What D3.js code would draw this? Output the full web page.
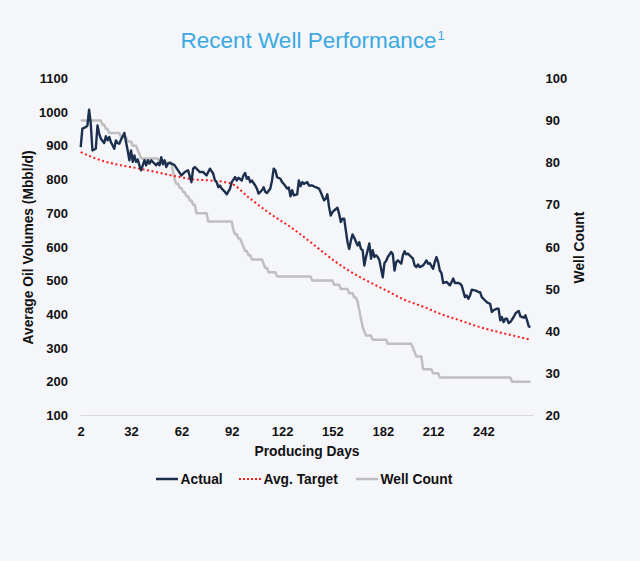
<!DOCTYPE html>
<html>
<head>
<meta charset="utf-8">
<script src="https://cdn.jsdelivr.net/npm/d3@7"></script>
<style>
  html, body { margin: 0; padding: 0; background: #f5f6fa; }
  svg { display: block; font-family: "Liberation Sans", Arial, sans-serif; }
</style>
</head>
<body>
<svg id="chart" width="640" height="561"></svg>
<script>
// ---- Data ----
const actualDays = [2,3,5,6,7,8,9,11,12,13,14,16,17,18,19,20,22,23,24,25,26,28,29,30,31,32,33,34,35,36,37,38,40,41,42,43,44,46,47,48,49,50,51,52,53,54,55,57,58,60,62,64,66,68,69,70,72,73,75,77,78,79,81,82,83,84,85,86,88,89,91,92,94,95,96,98,99,100,101,102,103,104,106,107,108,110,111,112,113,115,116,117,118,119,121,122,123,125,126,127,128,129,131,132,133,134,135,137,138,140,142,144,145,147,148,149,150,151,152,153,155,156,157,158,159,161,162,163,164,165,167,168,169,170,171,172,174,175,176,177,178,179,180,182,183,184,185,187,188,189,190,191,193,194,195,196,197,199,200,201,202,203,204,206,207,208,209,210,212,213,214,215,216,217,218,220,221,222,223,224,225,227,228,229,231,232,233,234,235,237,238,239,240,241,243,244,245,246,247,248,250,251,252,253,254,255,256,257,258,260,261,262,263,264,266,267,268,269,270];
const actualValues = [896,951,955,960,1007,966,886,891,960,936,921,908,928,916,926,911,891,916,908,906,918,938,911,886,857,886,852,871,852,859,842,827,857,842,857,847,857,847,842,849,842,866,845,857,837,847,849,845,842,827,812,822,827,792,832,837,827,822,822,812,822,832,817,797,792,777,782,773,763,756,773,792,807,797,805,797,812,819,802,807,792,797,782,773,758,768,777,763,760,773,797,832,827,807,802,792,787,773,776,750,768,753,756,797,780,792,787,792,782,782,777,773,763,738,743,756,718,693,703,708,716,698,674,684,684,614,594,619,637,627,604,614,594,590,545,570,610,565,590,570,575,570,560,510,552,558,570,585,578,530,555,560,550,575,587,578,580,570,565,545,540,548,540,545,552,560,550,552,535,555,570,555,530,522,493,496,491,486,496,506,493,493,491,486,451,456,446,456,473,471,469,466,466,451,441,436,433,431,407,412,417,417,382,392,377,387,387,374,377,392,402,407,410,394,390,397,382,364,362];

const targetDays   = [2,11,23,35,47,59,70,79,91,103,115,127,139,148,160,172,184,195,207,216,228,240,252,264,270];
const targetValues = [881,862,845,834,822,809,800,797,789,743,698,659,614,578,535,501,471,443,421,402,382,362,346,332,325];

// Well count: day on which each count begins
const wellDays   = [2,15,17,19,26,30,33,36,37,38,49,57,58,59,61,63,65,67,69,71,78,93,94,96,98,99,100,102,104,111,112,114,119,140,153,157,162,165,167,168,169,170,171,172,176,185,200,201,202,206,212,216,259,270];
const wellCounts = [90,89,88,87,86,85,84,83,82,81,80,78,76,75,74,73,72,71,70,68,66,64,63,62,61,60,59,58,57,56,55,54,53,52,51,50,49,48,47,45,43,41,40,39,38,37,36,35,34,31,30,29,28,28];

const xTicks = [2,32,62,92,122,152,182,212,242];
const yLeftTicks = [100,200,300,400,500,600,700,800,900,1000,1100];
const yRightTicks = [20,30,40,50,60,70,80,90,100];

const legendItems = [
  {label: "Actual", key: "actual"},
  {label: "Avg. Target", key: "target"},
  {label: "Well Count", key: "well"}
];

// ---- Chart ----
const svg = d3.select("#chart");
const colors = {actual: "#1c2f4e", target: "#ff1a1a", well: "#bfbfbf"};

const x = d3.scaleLinear().domain([2, 272]).range([80.7, 533.8]);
const yL = d3.scaleLinear().domain([100, 1100]).range([415.5, 78.3]);
const yR = d3.scaleLinear().domain([20, 100]).range([415.5, 78.3]);

// Title
const title = svg.append("text")
  .attr("x", 180.5).attr("y", 48)
  .attr("fill", "#3aa9e2")
  .style("font-size", "22.5px");
title.append("tspan").text("Recent Well Performance");
title.append("tspan").attr("dy", -8).attr("dx", 1).style("font-size", "13px").text("1");

// Baseline gridline
svg.append("line")
  .attr("x1", x(2)).attr("x2", x(272))
  .attr("y1", yL(100)).attr("y2", yL(100))
  .attr("stroke", "#d9d9d9").attr("stroke-width", 1);

// Axes
const tickStyle = g => {
  g.select(".domain").remove();
  g.selectAll(".tick line").remove();
  g.selectAll(".tick text")
    .attr("fill", "#111")
    .style("font-size", "13px")
    .style("font-weight", "bold")
    .style("font-family", "'Liberation Sans', Arial, sans-serif");
};

svg.append("g")
  .attr("transform", "translate(0,415.5)")
  .call(d3.axisBottom(x).tickValues(xTicks).tickFormat(d3.format("d")).tickSize(0).tickPadding(11))
  .call(tickStyle);

svg.append("g")
  .attr("transform", "translate(68,0)")
  .call(d3.axisLeft(yL).tickValues(yLeftTicks).tickFormat(d3.format("d")).tickSize(0).tickPadding(0))
  .call(tickStyle);

svg.append("g")
  .attr("transform", "translate(545.5,0)")
  .call(d3.axisRight(yR).tickValues(yRightTicks).tickFormat(d3.format("d")).tickSize(0).tickPadding(0))
  .call(tickStyle);

// Axis titles
const titleStyle = sel => sel.attr("fill", "#111").style("font-size", "13.8px").style("font-weight", "bold");
svg.append("text").attr("x", 307).attr("y", 455.5).attr("text-anchor", "middle")
  .text("Producing Days").call(titleStyle);
svg.append("text").attr("transform", "translate(33,247.5) rotate(-90)").attr("text-anchor", "middle")
  .text("Average Oil Volumes (Mbbl/d)").call(titleStyle);
svg.append("text").attr("transform", "translate(584,247.5) rotate(-90)").attr("text-anchor", "middle")
  .text("Well Count").call(titleStyle);

// Well count line (each change spans one day)
const wellPts = [];
wellDays.forEach((d, i) => {
  if (i > 0 && wellCounts[i] !== wellCounts[i - 1]) wellPts.push([d - 1, wellCounts[i - 1]]);
  wellPts.push([d, wellCounts[i]]);
});
svg.append("path")
  .datum(wellPts)
  .attr("fill", "none")
  .attr("stroke", colors.well)
  .attr("stroke-width", 2.5)
  .attr("stroke-linejoin", "round")
  .attr("d", d3.line().x(d => x(d[0])).y(d => yR(d[1])));

// Target line
svg.append("path")
  .datum(targetDays.map((d, i) => [d, targetValues[i]]))
  .attr("fill", "none")
  .attr("stroke", colors.target)
  .attr("stroke-width", 2)
  .attr("stroke-dasharray", "2,2.6")
  .attr("d", d3.line().curve(d3.curveMonotoneX).x(d => x(d[0])).y(d => yL(d[1])));

// Actual line
svg.append("path")
  .datum(actualDays.map((d, i) => [d, actualValues[i]]))
  .attr("fill", "none")
  .attr("stroke", colors.actual)
  .attr("stroke-width", 2.4)
  .attr("stroke-linejoin", "round")
  .attr("d", d3.line().x(d => x(d[0])).y(d => yL(d[1])));

// Legend
const legendX = [156, 239, 356];
const lg = svg.append("g");
legendItems.forEach((it, i) => {
  const g = lg.append("g").attr("transform", `translate(${legendX[i]},479)`);
  const ln = g.append("line").attr("x1", 0).attr("x2", 22).attr("y1", 0).attr("y2", 0)
    .attr("stroke", colors[it.key]).attr("stroke-width", it.key === "target" ? 2 : 2.5);
  if (it.key === "target") ln.attr("stroke-dasharray", "2,2");
  g.append("text").attr("x", 24.5).attr("y", 5).text(it.label).call(titleStyle);
});
</script>
</body>
</html>
